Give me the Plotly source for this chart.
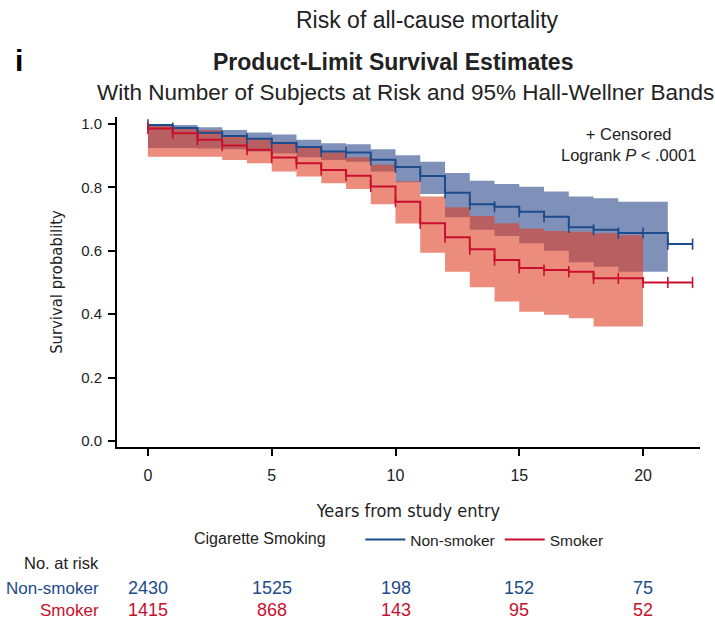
import plotly.graph_objects as go

# ---- Kaplan-Meier estimates, one value per yearly interval [k, k+1) ----
years = list(range(0, 23))

nonsmoker_surv = [0.997, 0.987, 0.972, 0.962, 0.953, 0.940, 0.927, 0.913, 0.910, 0.887,
                  0.864, 0.836, 0.783, 0.747, 0.739, 0.723, 0.707, 0.674, 0.666, 0.656,
                  0.656, 0.621]
smoker_surv = [0.986, 0.971, 0.950, 0.932, 0.919, 0.894, 0.876, 0.855, 0.837, 0.803,
               0.755, 0.687, 0.643, 0.605, 0.571, 0.546, 0.539, 0.534, 0.513, 0.513,
               0.500, 0.500]

# ---- 95% Hall-Wellner bands ----
nonsmoker_upper = [1.000, 0.997, 0.990, 0.981, 0.973, 0.967, 0.950, 0.939, 0.936, 0.920,
                   0.901, 0.881, 0.845, 0.821, 0.811, 0.802, 0.787, 0.771, 0.766, 0.755,
                   0.755]
nonsmoker_lower = [0.924, 0.924, 0.923, 0.920, 0.913, 0.907, 0.895, 0.886, 0.881, 0.850,
                   0.816, 0.779, 0.706, 0.666, 0.647, 0.624, 0.600, 0.564, 0.550, 0.534,
                   0.534]
smoker_upper = [0.995, 0.986, 0.981, 0.965, 0.955, 0.944, 0.929, 0.910, 0.895, 0.871,
                0.819, 0.771, 0.737, 0.710, 0.687, 0.670, 0.662, 0.660, 0.655, 0.649]
smoker_lower = [0.897, 0.897, 0.897, 0.886, 0.876, 0.850, 0.834, 0.813, 0.795, 0.747,
                0.686, 0.594, 0.534, 0.485, 0.440, 0.408, 0.398, 0.387, 0.361, 0.361]

# ---- Number at risk ----
risk_years = [0, 5, 10, 15, 20]
nonsmoker_at_risk = [2430, 1525, 198, 152, 75]
smoker_at_risk = [1415, 868, 143, 95, 52]

x_ticks = [0, 5, 10, 15, 20]
y_ticks = [0.0, 0.2, 0.4, 0.6, 0.8, 1.0]

BLUE = "#1d4b8c"
RED = "#c8102e"
BLUE_BAND = "rgb(128,145,185)"
RED_BAND = "rgba(222,63,38,0.6)"
TXT = "#222222"
FONT = "Liberation Sans, Arial, sans-serif"
NARROW = "Liberation Sans Narrow, Arial Narrow, DejaVu Sans Condensed, sans-serif"

W, H = 715, 623
ML, MR, MT, MB = 117, 15, 117, 176
PW, PH = W - ML - MR, H - MT - MB


def px_x(p):
    return (p - ML) / PW


def px_y(p):
    return (H - MB - p) / PH


def band_polygon(upper, lower):
    """Closed step polygon: upper edge left->right, lower edge right->left."""
    xs, ys = [], []
    for k, v in enumerate(upper):
        xs += [years[k], years[k + 1]]
        ys += [v, v]
    for k in range(len(lower) - 1, -1, -1):
        xs += [years[k + 1], years[k]]
        ys += [lower[k], lower[k]]
    xs.append(xs[0])
    ys.append(ys[0])
    return xs, ys


def step_line(values):
    xs = years[:len(values) + 1]
    ys = values + [values[-1]]
    return xs, ys


fig = go.Figure()

bx, by = band_polygon(nonsmoker_upper, nonsmoker_lower)
fig.add_trace(go.Scatter(x=bx, y=by, fill="toself", fillcolor=BLUE_BAND, mode="none",
                         showlegend=False, hoverinfo="skip"))
rx, ry = band_polygon(smoker_upper, smoker_lower)
fig.add_trace(go.Scatter(x=rx, y=ry, fill="toself", fillcolor=RED_BAND, mode="none",
                         showlegend=False, hoverinfo="skip"))

for name, vals, col in [("Non-smoker", nonsmoker_surv, BLUE), ("Smoker", smoker_surv, RED)]:
    lx, ly = step_line(vals)
    fig.add_trace(go.Scatter(x=lx, y=ly, mode="lines", line=dict(color=col, width=2, shape="hv"),
                             name=name, showlegend=True))
    # censoring marks at each yearly point
    fig.add_trace(go.Scatter(x=lx, y=ly, mode="markers",
                             marker=dict(symbol="line-ns-open", size=8, color=col,
                                         line=dict(color=col, width=1.6)),
                             showlegend=False, hoverinfo="skip"))

fig.update_layout(
    width=W, height=H,
    margin=dict(l=ML, r=MR, t=MT, b=MB, pad=0),
    paper_bgcolor="white", plot_bgcolor="white",
    font=dict(family=FONT, size=15, color=TXT),
    showlegend=True,
    legend=dict(
        orientation="h", x=px_x(192), y=px_y(540), xanchor="left", yanchor="middle",
        title=dict(text="Cigarette Smoking      ", font=dict(size=16, color=TXT), side="left"),
        font=dict(size=15.5, color=TXT), itemwidth=40, traceorder="normal",
        bgcolor="rgba(0,0,0,0)",
    ),
    xaxis=dict(range=[-1.25, 22.3], tickvals=x_ticks, ticks="outside", ticklen=7,
               tickwidth=1.5, tickcolor="black", showline=True, linecolor="black",
               linewidth=2, showgrid=False, zeroline=False, ticklabelstandoff=6,
               tickfont=dict(size=16, color=TXT),
               title=dict(text="Years from study entry", font=dict(family=NARROW, size=18, color=TXT),
                          standoff=21)),
    yaxis=dict(range=[-0.019, 1.022], tickvals=y_ticks, ticktext=[f"{v:.1f}" for v in y_ticks],
               ticks="outside", ticklen=7, tickwidth=1.5, tickcolor="black", showline=True,
               linecolor="black", linewidth=2, showgrid=False, zeroline=False,
               ticklabelstandoff=3,
               tickfont=dict(size=15, color=TXT),
               title=dict(text="Survival probability", font=dict(family=NARROW, size=16.5, color=TXT),
                          standoff=14)),
)

ann = []
ann.append(dict(text="Risk of all-cause mortality", x=px_x(427), y=px_y(20), xref="paper", yref="paper",
                showarrow=False, font=dict(size=23, color=TXT), xanchor="center", yanchor="middle"))
ann.append(dict(text="<b>i</b>", x=px_x(19), y=px_y(60), xref="paper", yref="paper",
                showarrow=False, font=dict(size=30, color="black"), xanchor="center", yanchor="middle"))
ann.append(dict(text="<b>Product-Limit Survival Estimates</b>", x=px_x(393), y=px_y(62), xref="paper",
                yref="paper", showarrow=False, font=dict(size=23, color=TXT), xanchor="center",
                yanchor="middle"))
ann.append(dict(text="With Number of Subjects at Risk and 95% Hall-Wellner Bands", x=px_x(405), y=px_y(92),
                xref="paper", yref="paper", showarrow=False, font=dict(size=22.5, color=TXT),
                xanchor="center", yanchor="middle"))
ann.append(dict(text="+ Censored<br>Logrank <i>P</i> < .0001", x=px_x(628), y=px_y(144), xref="paper",
                yref="paper", showarrow=False, align="center", font=dict(size=16.5, color=TXT),
                xanchor="center", yanchor="middle"))

# number-at-risk table
ann.append(dict(text="No. at risk", x=px_x(101), y=px_y(563), xref="paper", yref="paper", showarrow=False,
                font=dict(size=16.5, color=TXT), xanchor="right", yanchor="middle"))
for label, counts, col, ypix in [("Non-smoker", nonsmoker_at_risk, BLUE, 588),
                                 ("Smoker", smoker_at_risk, RED, 610)]:
    ann.append(dict(text=label, x=px_x(101), y=px_y(ypix), xref="paper", yref="paper", showarrow=False,
                    font=dict(size=17, color=col), xanchor="right", yanchor="middle"))
    for yr, n in zip(risk_years, counts):
        ann.append(dict(text=str(n), x=yr, y=px_y(ypix), xref="x", yref="paper", showarrow=False,
                        font=dict(size=18, color=col), xanchor="center", yanchor="middle"))

fig.update_layout(annotations=ann)
fig.write_html("out.html")
